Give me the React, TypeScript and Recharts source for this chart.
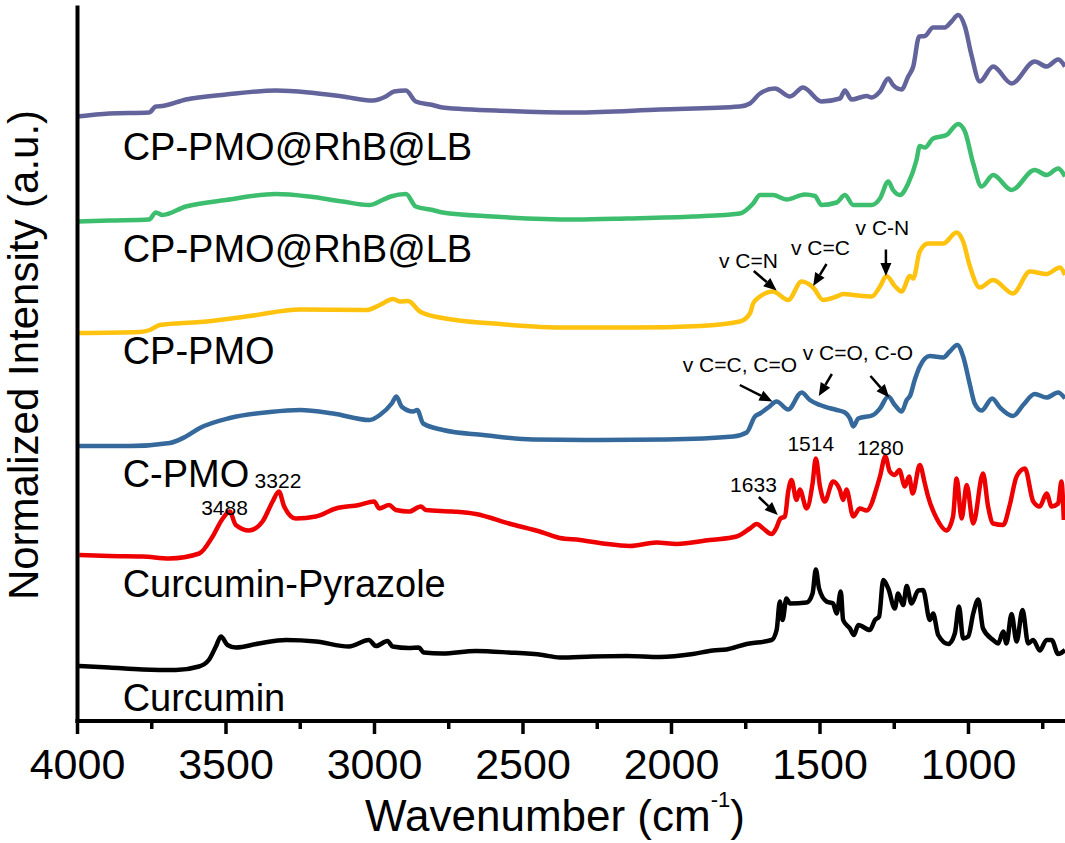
import React from 'react'
import { LineChart, Line, XAxis, YAxis, ReferenceDot, ReferenceLine } from 'recharts'

type Pt = [number, number]

// FTIR spectra, [wavenumber (cm-1), stacked normalized intensity]
const curcumin: Pt[] = [
  [3995, 1.10], [3894, 1.07], [3781, 1.03], [3669, 1.02], [3591, 1.09], [3558, 1.22], [3534, 1.49], [3517, 1.69], [3495, 1.52], [3467, 1.47],
  [3389, 1.55], [3298, 1.62], [3197, 1.59], [3086, 1.49], [3019, 1.62], [2995, 1.50], [2956, 1.60], [2939, 1.49], [2884, 1.46], [2851, 1.47],
  [2834, 1.37], [2771, 1.35], [2659, 1.40], [2548, 1.37], [2434, 1.32], [2376, 1.27], [2265, 1.29], [2151, 1.30], [2039, 1.28], [1928, 1.34],
  [1861, 1.41], [1815, 1.43], [1747, 1.54], [1663, 1.62], [1646, 1.82], [1635, 2.39], [1626, 2.02], [1613, 2.45], [1601, 2.35], [1545, 2.37],
  [1525, 2.55], [1514, 3.03], [1503, 2.65], [1478, 2.39], [1456, 2.35], [1444, 2.15], [1430, 2.59], [1422, 2.02], [1399, 1.85], [1386, 1.72],
  [1371, 1.92], [1332, 1.82], [1315, 2.02], [1301, 2.09], [1287, 2.82], [1270, 2.65], [1248, 2.25], [1237, 2.55], [1220, 2.32], [1208, 2.70],
  [1192, 2.35], [1169, 2.61], [1153, 2.62], [1130, 2.02], [1119, 2.15], [1102, 1.72], [1068, 1.54], [1046, 1.75], [1032, 2.29], [1018, 1.65],
  [1001, 1.69], [984, 2.15], [967, 2.43], [951, 1.85], [917, 1.62], [900, 1.55], [883, 1.79], [872, 1.55], [855, 2.14], [838, 1.59],
  [818, 2.22], [799, 1.55], [782, 1.62], [760, 1.41], [737, 1.62], [720, 1.62], [698, 1.34], [675, 1.42],
]

const curcuminPyrazole: Pt[] = [
  [3994, 3.32], [3893, 3.30], [3781, 3.29], [3691, 3.25], [3590, 3.35], [3545, 3.69], [3511, 4.05], [3488, 4.19], [3467, 3.92], [3422, 3.81],
  [3377, 3.99], [3343, 4.39], [3322, 4.59], [3304, 4.29], [3265, 4.05], [3197, 4.09], [3130, 4.25], [3052, 4.32], [3001, 4.39], [2984, 4.25],
  [2951, 4.32], [2928, 4.22], [2883, 4.19], [2844, 4.29], [2827, 4.22], [2737, 4.19], [2659, 4.14], [2547, 3.95], [2434, 3.77], [2376, 3.66],
  [2308, 3.62], [2230, 3.55], [2140, 3.50], [2050, 3.57], [1983, 3.54], [1871, 3.62], [1781, 3.69], [1736, 3.85], [1713, 3.94], [1691, 3.85],
  [1663, 3.74], [1648, 3.85], [1633, 4.05], [1618, 4.09], [1607, 4.59], [1596, 4.82], [1579, 4.42], [1568, 4.63], [1545, 4.25], [1525, 4.75],
  [1514, 5.25], [1500, 4.69], [1484, 4.39], [1456, 4.79], [1433, 4.62], [1422, 4.42], [1411, 4.63], [1388, 4.09], [1366, 4.25], [1343, 4.21],
  [1326, 4.35], [1315, 4.55], [1298, 4.89], [1280, 5.29], [1265, 4.99], [1248, 4.92], [1233, 5.02], [1214, 4.69], [1200, 4.89], [1188, 4.55],
  [1164, 5.12], [1147, 4.75], [1136, 4.49], [1107, 4.05], [1074, 3.81], [1052, 4.09], [1040, 4.85], [1023, 4.05], [1006, 4.72], [984, 3.95],
  [951, 4.95], [934, 4.29], [917, 3.95], [883, 3.92], [861, 4.32], [838, 4.89], [810, 5.05], [782, 4.39], [760, 4.29], [737, 4.55],
  [720, 4.29], [698, 4.35], [687, 4.79], [679, 4.02],
]

const cPmo: Pt[] = [
  [3995, 5.50], [3824, 5.50], [3689, 5.56], [3638, 5.68], [3588, 5.86], [3487, 6.06], [3352, 6.18], [3251, 6.22], [3139, 6.15], [3016, 6.02],
  [2982, 6.12], [2942, 6.35], [2926, 6.49], [2909, 6.29], [2870, 6.19], [2856, 6.22], [2836, 5.95], [2769, 5.82], [2634, 5.72], [2466, 5.63],
  [2241, 5.62], [2017, 5.63], [1792, 5.69], [1747, 5.77], [1719, 6.09], [1702, 6.15], [1674, 6.27], [1646, 6.39], [1607, 6.23], [1562, 6.57],
  [1534, 6.42], [1500, 6.32], [1444, 6.22], [1416, 6.17], [1399, 6.05], [1388, 5.89], [1371, 6.05], [1321, 6.12], [1298, 6.25], [1270, 6.49],
  [1248, 6.32], [1225, 6.19], [1208, 6.42], [1197, 6.50], [1181, 6.82], [1164, 7.09], [1130, 7.30], [1085, 7.27], [1063, 7.39], [1038, 7.52],
  [1018, 7.29], [995, 6.72], [979, 6.35], [956, 6.21], [920, 6.45], [894, 6.27], [850, 6.10], [816, 6.32], [777, 6.54], [737, 6.47],
  [698, 6.57], [675, 6.45],
]

const cpPmo: Pt[] = [
  [3995, 7.76], [3790, 7.78], [3756, 7.82], [3723, 7.92], [3588, 7.98], [3420, 8.10], [3251, 8.23], [3027, 8.22], [2982, 8.32], [2937, 8.44],
  [2914, 8.39], [2887, 8.40], [2847, 8.19], [2780, 8.07], [2578, 7.94], [2353, 7.87], [2129, 7.87], [1904, 7.90], [1770, 7.99], [1736, 8.15],
  [1725, 8.35], [1702, 8.49], [1658, 8.59], [1607, 8.42], [1562, 8.79], [1523, 8.67], [1489, 8.42], [1444, 8.49], [1422, 8.54], [1388, 8.52],
  [1326, 8.49], [1298, 8.69], [1276, 8.90], [1248, 8.70], [1225, 8.59], [1197, 8.90], [1186, 8.85], [1164, 9.39], [1136, 9.55], [1085, 9.55],
  [1040, 9.77], [1018, 9.59], [995, 9.09], [962, 8.67], [917, 8.82], [850, 8.55], [793, 8.99], [737, 8.94], [692, 9.07], [675, 8.92],
]

const cpPmoRhbLbA: Pt[] = [
  [4000, 9.99], [3893, 10.01], [3759, 10.03], [3736, 10.17], [3714, 10.12], [3635, 10.29], [3500, 10.42], [3332, 10.54], [3220, 10.49], [3107, 10.39],
  [3018, 10.32], [2973, 10.42], [2945, 10.49], [2894, 10.54], [2861, 10.29], [2804, 10.22], [2771, 10.17], [2602, 10.09], [2322, 10.03], [2151, 10.05],
  [1927, 10.09], [1770, 10.15], [1725, 10.35], [1702, 10.52], [1658, 10.52], [1613, 10.43], [1551, 10.53], [1517, 10.50], [1495, 10.32], [1444, 10.37],
  [1416, 10.52], [1388, 10.32], [1326, 10.32], [1298, 10.45], [1270, 10.79], [1254, 10.62], [1231, 10.52], [1203, 10.75], [1175, 11.22], [1164, 11.50],
  [1147, 11.47], [1119, 11.65], [1074, 11.72], [1035, 11.94], [1012, 11.79], [984, 11.15], [956, 10.69], [917, 10.92], [855, 10.62], [777, 11.02],
  [737, 10.92], [698, 11.05], [675, 10.89],
]

const cpPmoRhbLbB: Pt[] = [
  [4000, 12.09], [3893, 12.15], [3759, 12.17], [3736, 12.29], [3714, 12.30], [3635, 12.43], [3500, 12.53], [3332, 12.61], [3220, 12.57], [3107, 12.49],
  [3006, 12.41], [2962, 12.49], [2934, 12.59], [2894, 12.61], [2861, 12.39], [2804, 12.32], [2771, 12.27], [2547, 12.20], [2322, 12.17], [2039, 12.23],
  [1770, 12.29], [1736, 12.35], [1702, 12.55], [1652, 12.65], [1601, 12.49], [1557, 12.67], [1495, 12.39], [1433, 12.45], [1416, 12.61], [1394, 12.43],
  [1343, 12.50], [1326, 12.47], [1298, 12.59], [1270, 12.85], [1254, 12.72], [1225, 12.63], [1203, 12.89], [1186, 13.09], [1166, 13.69], [1147, 13.70],
  [1119, 13.87], [1080, 13.87], [1057, 13.99], [1035, 14.12], [1012, 13.89], [990, 13.32], [962, 12.79], [917, 13.09], [855, 12.75], [777, 13.19],
  [737, 13.09], [698, 13.23], [675, 13.09],
]

const spectra = [
  { id: 'curcumin', color: '#000000', points: curcumin },
  { id: 'curcuminPyrazole', color: '#EE0000', points: curcuminPyrazole },
  { id: 'cPmo', color: '#35699B', points: cPmo },
  { id: 'cpPmo', color: '#FFC20E', points: cpPmo },
  { id: 'cpPmoRhbLbA', color: '#3DBE6E', points: cpPmoRhbLbA },
  { id: 'cpPmoRhbLbB', color: '#64649C', points: cpPmoRhbLbB },
]

const wnTicks = [4000, 3750, 3500, 3250, 3000, 2750, 2500, 2250, 2000, 1750, 1500, 1250, 1000, 750]

// sample names, anchored at the left in data units
const sampleNames = [
  { text: 'CP-PMO@RhB@LB', wn: 3848, level: 11.22 },
  { text: 'CP-PMO@RhB@LB', wn: 3848, level: 9.18 },
  { text: 'CP-PMO', wn: 3848, level: 7.14 },
  { text: 'C-PMO', wn: 3848, level: 4.68 },
  { text: 'Curcumin-Pyrazole', wn: 3848, level: 2.48 },
  { text: 'Curcumin', wn: 3848, level: 0.2 },
]

const peakNotes = [
  { text: '3488', wn: 3505, level: 4.13, anchor: 'middle' },
  { text: '3322', wn: 3325, level: 4.66, anchor: 'middle' },
  { text: '1514', wn: 1531, level: 5.4, anchor: 'middle' },
  { text: '1280', wn: 1297, level: 5.32, anchor: 'middle' },
  { text: '1633', wn: 1724, level: 4.58, anchor: 'middle' },
  { text: 'v C=C, C=O', wn: 1962, level: 6.98, anchor: 'start' },
  { text: 'v C=O, C-O', wn: 1558, level: 7.22, anchor: 'start' },
  { text: 'v C=N', wn: 1840, level: 9.06, anchor: 'start' },
  { text: 'v C=C', wn: 1598, level: 9.32, anchor: 'start' },
  { text: 'v C-N', wn: 1380, level: 9.72, anchor: 'start' },
]

// arrows: [from, to] in [wavenumber, level]
const arrows: [Pt, Pt][] = [
  [[1706, 4.48], [1642, 4.12]],
  [[1770, 6.72], [1660, 6.39]],
  [[1460, 6.94], [1504, 6.5]],
  [[1330, 6.9], [1267, 6.47]],
  [[1723, 9.0], [1646, 8.61]],
  [[1478, 9.14], [1523, 8.7]],
  [[1278, 9.43], [1278, 8.9]],
]

const FONT = '"Liberation Sans", Arial, Helvetica, sans-serif'
const axisStyle = { stroke: '#000', strokeWidth: 4, strokeLinecap: 'square' as const }

function WnTick(props: any) {
  const { x, y, payload } = props
  const major = payload.value % 500 === 0
  return (
    <g>
      <line x1={x} x2={x} y1={y} y2={y + (major ? 13 : 8)} stroke="#000" strokeWidth={3.5} />
      {major && (
        <text x={x} y={y + 58} textAnchor="middle" fontSize={43} fontFamily={FONT} fill="#000">
          {payload.value}
        </text>
      )}
    </g>
  )
}

function arrowShape(props: any) {
  const { x1, y1, x2, y2 } = props
  const dx = x2 - x1
  const dy = y2 - y1
  const len = Math.hypot(dx, dy) || 1
  const ux = dx / len
  const uy = dy / len
  const head = 13
  const half = 5.5
  const bx = x2 - ux * head
  const by = y2 - uy * head
  const pts = `${x2},${y2} ${bx - uy * half},${by + ux * half} ${bx + uy * half},${by - ux * half}`
  return (
    <g>
      <line x1={x1} y1={y1} x2={bx} y2={by} stroke="#000" strokeWidth={2.5} />
      <polygon points={pts} fill="#000" />
    </g>
  )
}

export default function App() {
  return (
    <div style={{ position: 'absolute', left: 0, top: 0, width: 1065, height: 843, background: '#fff' }}>
      <LineChart width={1065} height={843} margin={{ top: 7.5, right: 0, bottom: 0, left: 0 }}>
        <XAxis
          dataKey="wn"
          type="number"
          domain={[675, 4000]}
          reversed
          allowDataOverflow
          ticks={wnTicks}
          interval={0}
          tickSize={0}
          tickMargin={0}
          tickLine={false}
          tick={WnTick}
          height={122}
          axisLine={axisStyle}
        />
        <XAxis
          xAxisId="top"
          orientation="top"
          type="number"
          domain={[675, 4000]}
          reversed
          height={0}
          tick={false}
          tickLine={false}
          axisLine={axisStyle}
        />
        <YAxis type="number" domain={[0, 14.27]} allowDataOverflow width={77.5} tick={false} tickLine={false} axisLine={axisStyle} />
        {spectra.map((s) => (
          <Line
            key={s.id}
            data={s.points.map(([wn, v]) => ({ wn, v }))}
            dataKey="v"
            type="monotone"
            stroke={s.color}
            strokeWidth={4.5}
            strokeLinejoin="round"
            dot={false}
            isAnimationActive={false}
          />
        ))}
        {arrows.map(([a, b], i) => (
          <ReferenceLine
            key={`arrow-${i}`}
            segment={[{ x: a[0], y: a[1] }, { x: b[0], y: b[1] }]}
            ifOverflow="visible"
            shape={arrowShape}
          />
        ))}
        {sampleNames.map((n, i) => (
          <ReferenceDot
            key={`name-${i}`}
            x={n.wn}
            y={n.level}
            r={0}
            ifOverflow="visible"
            shape={(p: any) => (
              <text x={p.cx} y={p.cy} fontSize={38} fontFamily={FONT} fill="#000">
                {n.text}
              </text>
            )}
          />
        ))}
        {peakNotes.map((n, i) => (
          <ReferenceDot
            key={`note-${i}`}
            x={n.wn}
            y={n.level}
            r={0}
            ifOverflow="visible"
            shape={(p: any) => (
              <text x={p.cx} y={p.cy} textAnchor={n.anchor as any} fontSize={21} fontFamily={FONT} fill="#000">
                {n.text}
              </text>
            )}
          />
        ))}
      </LineChart>
      <svg width={1065} height={843} style={{ position: 'absolute', left: 0, top: 0, pointerEvents: 'none' }}>
        <text x={555} y={831} textAnchor="middle" fontSize={44} fontFamily={FONT} fill="#000">
          Wavenumber (cm
          <tspan fontSize={22} dy={-24}>-1</tspan>
          <tspan dy={24}>)</tspan>
        </text>
        <text
          x={38}
          y={355}
          transform="rotate(-90, 38, 355)"
          textAnchor="middle"
          fontSize={42}
          fontFamily={FONT}
          fill="#000"
        >
          Normalized Intensity (a.u.)
        </text>
      </svg>
    </div>
  )
}
